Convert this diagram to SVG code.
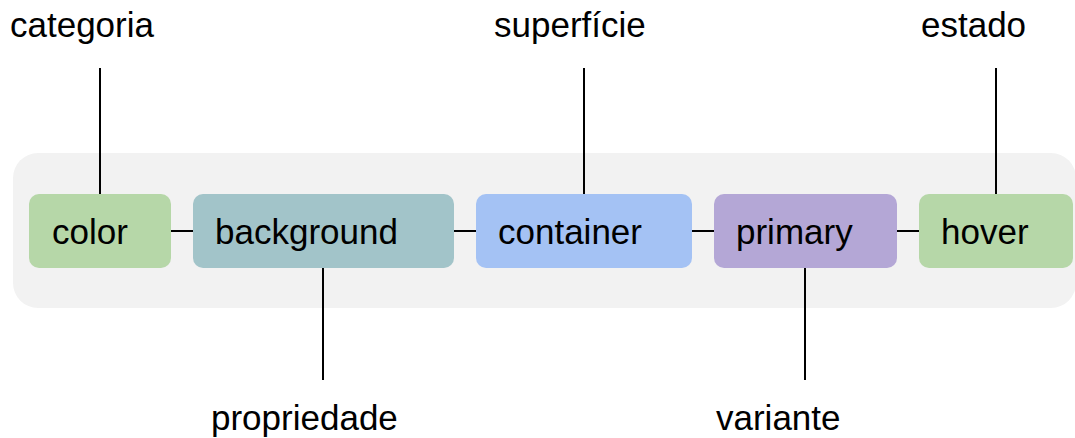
<svg xmlns="http://www.w3.org/2000/svg" width="1075" height="438" viewBox="0 0 1075 438">
<style>
text{font-family:"Liberation Sans",Arial,sans-serif;font-size:35px;fill:#000}
.n rect{stroke:none}
.c line{stroke:#000;stroke-width:2}
</style>
<rect x="0" y="0" width="1075" height="438" fill="#fff"/>
<rect id="panel" x="13" y="153" width="1063" height="155" rx="25" fill="#f2f2f2"/>
<g class="c" id="connectors">
<line x1="100" y1="68" x2="100" y2="194"/>
<line x1="584" y1="68" x2="584" y2="194"/>
<line x1="996" y1="68" x2="996" y2="194"/>
<line x1="323" y1="268" x2="323" y2="380"/>
<line x1="805" y1="268" x2="805" y2="380"/>
<line x1="171" y1="231" x2="193" y2="231"/>
<line x1="454" y1="231" x2="476" y2="231"/>
<line x1="692" y1="231" x2="714" y2="231"/>
<line x1="897" y1="231" x2="919" y2="231"/>
</g>
<g class="n" id="color"><rect x="29" y="194" width="142" height="74" rx="10" fill="#b6d7a8"/><text x="52" y="244">color</text></g>
<g class="n" id="background"><rect x="193" y="194" width="261" height="74" rx="10" fill="#a2c4c9"/><text x="215" y="244">background</text></g>
<g class="n" id="container"><rect x="476" y="194" width="216" height="74" rx="10" fill="#a4c2f4"/><text x="498" y="244">container</text></g>
<g class="n" id="primary"><rect x="714" y="194" width="183" height="74" rx="10" fill="#b4a7d6"/><text x="736" y="244">primary</text></g>
<g class="n" id="hover"><rect x="919" y="194" width="154" height="74" rx="10" fill="#b6d7a8"/><text x="941" y="244">hover</text></g>
<g id="label-categoria"><text x="10" y="37">categoria</text></g>
<g id="label-superficie"><text x="494" y="37">superfície</text></g>
<g id="label-estado"><text x="921" y="37">estado</text></g>
<g id="label-propriedade"><text x="211" y="430">propriedade</text></g>
<g id="label-variante"><text x="716" y="430">variante</text></g>
</svg>
